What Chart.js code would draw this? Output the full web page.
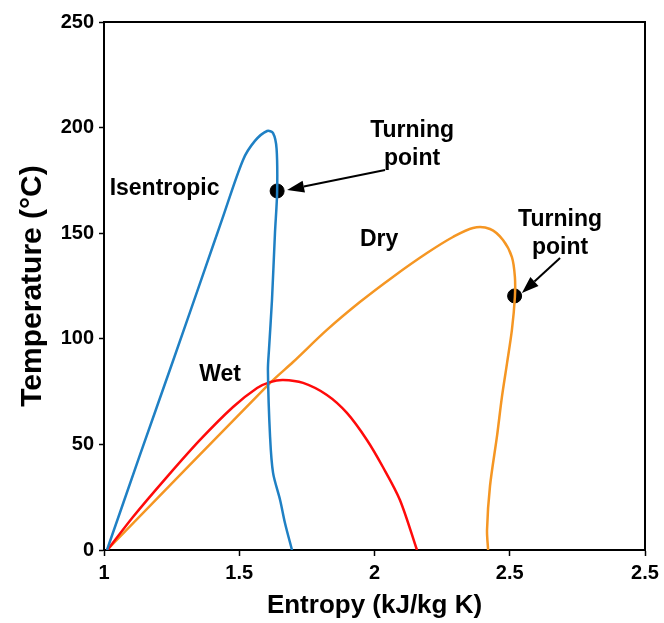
<!DOCTYPE html>
<html>
<head>
<meta charset="utf-8">
<script src="https://cdn.jsdelivr.net/npm/chart.js@4/dist/chart.umd.min.js"></script>
<style>
  body { margin: 0; background: #fff; }
  canvas { display: block; }
</style>
</head>
<body>
<canvas id="ts_chart" width="664" height="623"></canvas>
<script>
// entropy (kJ/kg K) and temperature (°C)
var isentropicS = [1.011, 1.133, 1.255, 1.373, 1.436, 1.514, 1.558, 1.603, 1.625, 1.638, 1.640, 1.632, 1.621, 1.610, 1.606, 1.614, 1.625, 1.651, 1.669, 1.695];
var isentropicT = [0, 45, 89.5, 133, 156.3, 184.7, 193.7, 198.4, 197.4, 190, 169.5, 150, 118.4, 95, 85.2, 53.5, 36.5, 23.7, 12.8, 0];

var wetS = [1.013, 1.107, 1.233, 1.355, 1.477, 1.566, 1.614, 1.662, 1.736, 1.824, 1.898, 1.972, 2.031, 2.094, 2.157];
var wetT = [0, 15.6, 34.6, 52.1, 67.7, 76.7, 79.5, 80.5, 79.1, 73.4, 64.9, 52.1, 39.3, 23.7, 0];

var dryS = [1.011, 1.614, 1.699, 1.824, 1.946, 2.068, 2.194, 2.290, 2.364, 2.427, 2.475, 2.508, 2.519, 2.519, 2.508, 2.490, 2.471, 2.453, 2.427, 2.416, 2.420];
var dryT = [0, 79.1, 89, 104.2, 117.4, 129.3, 140.6, 148.2, 152.5, 152, 146.8, 138.7, 129.3, 119.8, 104.2, 88.5, 72.4, 54, 30.3, 9.5, 0];

var turningS = [1.640, 2.518];
var turningT = [170, 120.3];

var xTickLabels = ['1', '1.5', '2', '2.5', '2.5'];
var yTickValues = [0, 50, 100, 150, 200, 250];

// text labels: [text, s, T]
var curveLabels = [
    ['Isentropic', 1.224, 170.9],
    ['Wet', 1.429, 83.1],
    ['Dry', 2.017, 146.8],
    ['Turning', 2.139, 198.4],
    ['point', 2.139, 185.1],
    ['Turning', 2.686, 156.3],
    ['point', 2.686, 143]
];
// arrows: [fromS, fromT, toS, toT]
var arrows = [
    [2.039, 179.9, 1.677, 170.5],
    [2.686, 138.3, 2.545, 121.7]
];

function toPoints(xs, ys) {
    return xs.map(function (x, i) { return { x: x, y: ys[i] }; });
}

var FONT = '"Liberation Sans", Arial, sans-serif';

var annotations = {
    id: 'annotations',
    afterDatasetsDraw: function (chart) {
        var c = chart.ctx;
        var xs = chart.scales.x, ys = chart.scales.y;
        var area = chart.chartArea;
        c.save();
        // frame on top and right
        c.strokeStyle = '#000';
        c.lineWidth = 2;
        c.beginPath();
        c.moveTo(area.left, area.top);
        c.lineTo(area.right, area.top);
        c.lineTo(area.right, area.bottom);
        c.stroke();

        c.fillStyle = '#000';
        c.font = 'bold 23px ' + FONT;
        c.textAlign = 'center';
        c.textBaseline = 'middle';
        curveLabels.forEach(function (l) {
            c.fillText(l[0], xs.getPixelForValue(l[1]), ys.getPixelForValue(l[2]));
        });

        arrows.forEach(function (a) {
            var x1 = xs.getPixelForValue(a[0]), y1 = ys.getPixelForValue(a[1]);
            var x2 = xs.getPixelForValue(a[2]), y2 = ys.getPixelForValue(a[3]);
            var ang = Math.atan2(y2 - y1, x2 - x1);
            var headLen = 17, headW = 6;
            var bx = x2 - headLen * Math.cos(ang), by = y2 - headLen * Math.sin(ang);
            c.lineWidth = 2;
            c.beginPath();
            c.moveTo(x1, y1);
            c.lineTo(bx, by);
            c.stroke();
            c.beginPath();
            c.moveTo(x2, y2);
            c.lineTo(bx + headW * Math.sin(ang), by - headW * Math.cos(ang));
            c.lineTo(bx - headW * Math.sin(ang), by + headW * Math.cos(ang));
            c.closePath();
            c.fill();
        });
        c.restore();
    }
};

var ctx = document.getElementById('ts_chart').getContext('2d');

var ts_chart = new Chart(ctx, {
    type: 'scatter',
    data: {
        datasets: [{
            label: 'Isentropic',
            data: toPoints(isentropicS, isentropicT),
            showLine: true,
            borderColor: 'rgb(31, 128, 196)',
            borderWidth: 2.5,
            pointRadius: 0,
            tension: 0.3
        }, {
            label: 'Wet',
            data: toPoints(wetS, wetT),
            showLine: true,
            borderColor: 'rgb(255, 10, 10)',
            borderWidth: 2.5,
            pointRadius: 0,
            tension: 0.3
        }, {
            label: 'Dry',
            data: toPoints(dryS, dryT),
            showLine: true,
            borderColor: 'rgb(245, 150, 35)',
            borderWidth: 2.5,
            pointRadius: 0,
            tension: 0.3
        }, {
            label: 'Turning point',
            data: toPoints(turningS, turningT),
            showLine: false,
            backgroundColor: '#000',
            borderColor: '#000',
            pointRadius: 7
        }]
    },
    options: {
        responsive: false,
        animation: false,
        layout: { padding: { top: 22, right: 19, left: 0, bottom: 0 } },
        plugins: {
            legend: { display: false },
            tooltip: { enabled: false }
        },
        scales: {
            x: {
                type: 'linear',
                min: 1,
                max: 3,
                afterFit: function (scale) { scale.height = 73; },
                afterBuildTicks: function (scale) {
                    scale.ticks = xTickLabels.map(function (l, i) { return { value: 1 + i * 0.5 }; });
                },
                ticks: {
                    color: '#000',
                    font: { family: FONT, size: 20, weight: 'bold' },
                    padding: 5,
                    maxRotation: 0,
                    callback: function (value, index) { return xTickLabels[index]; }
                },
                grid: { drawOnChartArea: false, color: '#000', tickLength: 6, tickWidth: 1.5 },
                border: { color: '#000', width: 2 },
                title: {
                    display: true,
                    text: 'Entropy (kJ/kg K)',
                    color: '#000',
                    font: { family: FONT, size: 26, weight: 'bold' },
                    padding: { top: 0, bottom: 2 }
                }
            },
            y: {
                min: 0,
                max: 250,
                afterFit: function (scale) { scale.width = 104; },
                afterBuildTicks: function (scale) {
                    scale.ticks = yTickValues.map(function (v) { return { value: v }; });
                },
                ticks: {
                    color: '#000',
                    font: { family: FONT, size: 20, weight: 'bold' },
                    padding: 5
                },
                grid: { drawOnChartArea: false, color: '#000', tickLength: 5, tickWidth: 1.5 },
                border: { color: '#000', width: 2 },
                title: {
                    display: true,
                    text: 'Temperature (°C)',
                    color: '#000',
                    font: { family: FONT, size: 30, weight: 'bold' },
                    padding: { top: 15, bottom: 0 }
                }
            }
        }
    },
    plugins: [annotations]
});
</script>
</body>
</html>
